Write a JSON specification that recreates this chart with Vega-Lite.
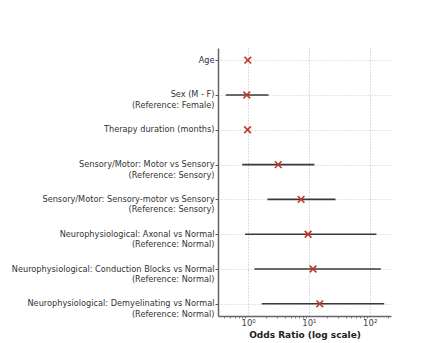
{
  "$schema": "https://vega.github.io/schema/vega-lite/v6.json",
  "autosize": "none",
  "width": 173,
  "height": 268,
  "padding": {"left": 218, "top": 48, "right": 40, "bottom": 27},
  "background": "white",
  "config": {
    "font": "DejaVu Sans",
    "view": {"stroke": null}
  },
  "data": {
    "values": [
      {"label": "Age", "or": 0.99, "lo": 0.97, "hi": 1.02},
      {"label": "Sex (M - F)|(Reference: Female)", "or": 0.95, "lo": 0.43, "hi": 2.17},
      {"label": "Therapy duration (months)", "or": 0.98, "lo": 0.96, "hi": 1.01},
      {"label": "Sensory/Motor: Motor vs Sensory|(Reference: Sensory)", "or": 3.13, "lo": 0.8, "hi": 12.3},
      {"label": "Sensory/Motor: Sensory-motor vs Sensory|(Reference: Sensory)", "or": 7.43, "lo": 2.08, "hi": 27.4},
      {"label": "Neurophysiological: Axonal vs Normal|(Reference: Normal)", "or": 9.7, "lo": 0.89, "hi": 129},
      {"label": "Neurophysiological: Conduction Blocks vs Normal|(Reference: Normal)", "or": 11.7, "lo": 1.27, "hi": 152},
      {"label": "Neurophysiological: Demyelinating vs Normal|(Reference: Normal)", "or": 15.1, "lo": 1.68, "hi": 173}
    ]
  },
  "resolve": {"axis": {"x": "independent"}},
  "layer": [
    {
      "mark": {"type": "rule", "color": "#3a3a3a", "strokeWidth": 1.6},
      "encoding": {
        "y": {
          "field": "label", "type": "nominal", "sort": null,
          "scale": {"type": "point", "padding": 0.35},
          "axis": {
            "title": null,
            "labelExpr": "split(datum.label, '|')",
            "labelFontSize": 8.2,
            "labelColor": "#333333",
            "labelLimit": 260,
            "labelPadding": 1,
            "labelLineHeight": 10.5,
            "tickSize": 3,
            "tickColor": "#555555",
            "domainColor": "#666666",
            "domainWidth": 1.5,
            "grid": true,
            "gridDash": [1, 2],
            "gridColor": "#bbbbbb",
            "gridWidth": 0.8
          }
        },
        "x": {
          "field": "lo", "type": "quantitative",
          "scale": {"type": "log", "domain": [0.32, 224], "nice": false},
          "axis": {
            "orient": "bottom",
            "title": "Odds Ratio (log scale)",
            "titleFontSize": 9,
            "titleFontWeight": "bold",
            "titleColor": "#222222",
            "titlePadding": 4,
            "values": [1, 10, 100],
            "labelExpr": "datum.value == 1 ? '10⁰' : datum.value == 10 ? '10¹' : '10²'",
            "labelFontSize": 8.5,
            "labelColor": "#444444",
            "labelPadding": 2,
            "tickSize": 0,
            "domainColor": "#666666",
            "domainWidth": 1.5,
            "grid": true,
            "gridDash": [1, 2],
            "gridColor": "#aaaaaa",
            "gridWidth": 0.8
          }
        },
        "x2": {"field": "hi"}
      }
    },
    {
      "mark": {"type": "point", "shape": "M-1,-1L1,1M-1,1L1,-1", "size": 45, "stroke": "#c0392b", "strokeWidth": 1.6, "filled": false, "opacity": 1},
      "encoding": {
        "y": {"field": "label", "type": "nominal", "sort": null},
        "x": {
          "field": "or", "type": "quantitative",
          "axis": {
            "orient": "bottom",
            "title": null,
            "values": [0.4, 0.5, 0.6, 0.7, 0.8, 0.9, 2, 3, 4, 5, 6, 7, 8, 9, 20, 30, 40, 50, 60, 70, 80, 90, 200],
            "labels": false,
            "domain": false,
            "grid": false,
            "tickSize": 2,
            "tickColor": "#666666",
            "tickWidth": 0.8
          }
        }
      }
    }
  ]
}
